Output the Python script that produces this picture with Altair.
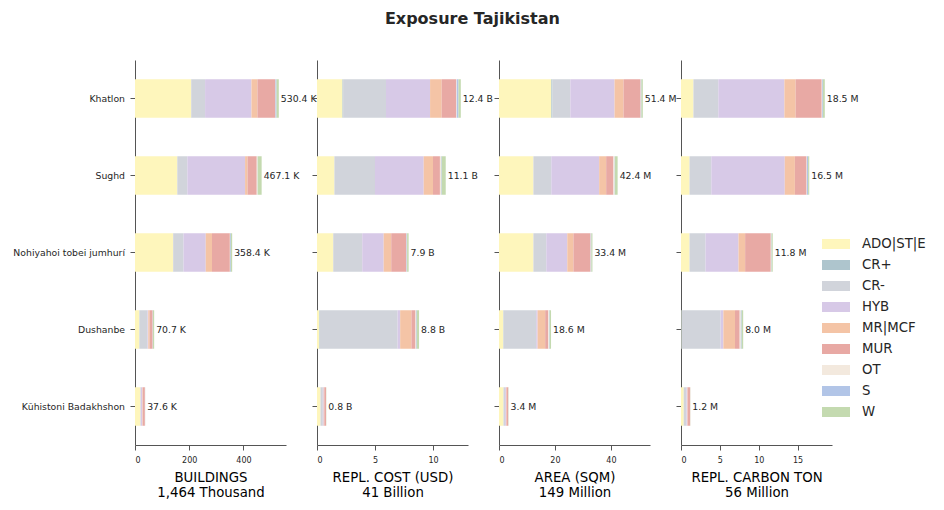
import altair as alt
import pandas as pd

regions = ["Khatlon", "Sughd", "Nohiyahoi tobei jumhurí", "Dushanbe", "Kŭhistoni Badakhshon"]
categories = ["ADO|ST|E", "CR+", "CR-", "HYB", "MR|MCF", "MUR", "OT", "S", "W"]
colors = ["#fef6bc", "#aec5cd", "#d1d4db", "#d7c9e7", "#f4c4a6", "#e8a9a4", "#f3e9de", "#b2c5e7", "#c4dab0"]

# values per region, in category order
buildings_k = [
    [207, 0.5, 51, 171, 22, 66, 0.5, 4, 8.4],
    [156, 0, 37, 213, 9, 34, 3, 0.5, 14.6],
    [140.5, 0.4, 38, 82, 23, 66, 0.5, 3, 5.0],
    [16, 1, 29, 3, 5, 11, 0.5, 0.7, 4.5],
    [20, 0, 2, 5, 1.5, 8, 0.5, 0.3, 0.3],
]
cost_b = [
    [2.2, 0.05, 3.7, 3.8, 1.0, 1.25, 0.05, 0.15, 0.2],
    [1.5, 0, 3.5, 4.2, 0.8, 0.6, 0.1, 0.05, 0.35],
    [1.4, 0, 2.5, 1.85, 0.65, 1.3, 0.02, 0.05, 0.13],
    [0.2, 0.05, 6.7, 0.22, 0.97, 0.35, 0.05, 0.06, 0.2],
    [0.3, 0, 0.2, 0.08, 0.05, 0.15, 0, 0, 0.02],
]
area_m = [
    [18.7, 0.4, 6.4, 15.8, 3.2, 6.1, 0.1, 0.2, 0.5],
    [12.3, 0, 6.4, 17.1, 2.5, 2.6, 0.4, 0.1, 1.0],
    [12.3, 0, 4.6, 7.5, 2.2, 6.1, 0.1, 0.2, 0.4],
    [1.5, 0.1, 11.7, 0.5, 2.7, 1.1, 0.3, 0.2, 0.5],
    [1.6, 0, 0.6, 0.3, 0.2, 0.6, 0, 0, 0.1],
]
carbon_m = [
    [1.6, 0, 3.2, 8.5, 1.45, 3.35, 0.05, 0.1, 0.25],
    [1.1, 0, 2.8, 9.45, 1.3, 1.5, 0.05, 0.15, 0.15],
    [1.1, 0, 2.05, 4.25, 0.85, 3.3, 0.05, 0.05, 0.15],
    [0.05, 0.05, 5.0, 0.35, 1.5, 0.6, 0.15, 0.1, 0.2],
    [0.35, 0, 0.35, 0.1, 0.05, 0.33, 0, 0, 0.02],
]

panel_titles = ["BUILDINGS", "REPL. COST (USD)", "AREA (SQM)", "REPL. CARBON TON"]
panel_units = ["K", "B", "M", "M"]
panel_words = ["Thousand", "Billion", "Million", "Million"]
panel_ticks = [[0, 200, 400], [0, 5, 10], [0, 20, 40], [0, 5, 10, 15]]
panel_data = [buildings_k, cost_b, area_m, carbon_m]

FONT = "DejaVu Sans"
legend = alt.Legend(
    orient="none", legendX=691, legendY=174, title=None,
    symbolType="M-1.4,-0.5H1.4V0.5H-1.4Z", symbolSize=400,
    symbolStrokeWidth=0, symbolOpacity=1, labelFontSize=13.3,
    labelFont=FONT, labelColor="#262626", rowPadding=4, labelOffset=16,
)


def make_panel(idx):
    rows = panel_data[idx]
    recs = []
    for r, row in zip(regions, rows):
        for i, (c, v) in enumerate(zip(categories, row)):
            recs.append({"region": r, "category": c, "order": i, "value": v})
    df = pd.DataFrame(recs)
    totals = [sum(r) for r in rows]
    tot = pd.DataFrame({
        "region": regions,
        "total": totals,
        "label": [f"{t:.1f} {panel_units[idx]}" for t in totals],
    })
    grand = sum(totals)
    title_lines = [panel_titles[idx], f"{round(grand):,} {panel_words[idx]}"]
    xmax = max(totals) * 1.05
    xscale = alt.Scale(domain=[0, xmax], nice=False, zero=True)
    yscale = alt.Scale(domain=regions, paddingInner=0.5, paddingOuter=0.25)
    if idx == 0:
        yaxis = alt.Axis(title=None, labelFontSize=9.3, tickSize=5, labelPadding=5.5,
                         labelLimit=300)
    else:
        yaxis = alt.Axis(title=None, labels=False, tickSize=5)
    xaxis = alt.Axis(values=panel_ticks[idx], title=title_lines, format="d",
                     labelFontSize=8, tickSize=5, labelPadding=6,
                     titleFontSize=13.3, titleFontWeight="normal",
                     titleLineHeight=15, titlePadding=6, titleColor="#000000")
    bars = alt.Chart(df).mark_bar().encode(
        x=alt.X("value:Q", stack="zero", scale=xscale, axis=xaxis),
        y=alt.Y("region:N", sort=regions, scale=yscale, axis=yaxis),
        color=alt.Color("category:N", scale=alt.Scale(domain=categories, range=colors),
                        legend=legend),
        order=alt.Order("order:Q"),
    )
    text = alt.Chart(tot).mark_text(align="left", baseline="middle", dx=2,
                                    fontSize=9.3, font=FONT, color="#262626").encode(
        x=alt.X("total:Q", scale=xscale),
        y=alt.Y("region:N", sort=regions, scale=yscale),
        text="label:N",
    )
    return alt.layer(bars, text).properties(width=151, height=385)


chart = alt.hconcat(*[make_panel(i) for i in range(4)], spacing=31, bounds="flush").properties(
    title=alt.TitleParams("Exposure Tajikistan", fontSize=16, fontWeight="bold",
                          anchor="middle", dx=3, offset=33,
                          color="#262626", font=FONT),
    padding={"left": 12, "top": 11, "right": 5, "bottom": 5},
).configure_view(stroke=None).configure_axis(
    grid=False, labelFont=FONT, titleFont=FONT, domainColor="#555555",
    tickColor="#555555", labelColor="#262626",
)

chart.save("out.html", embed_options={"renderer": "svg", "actions": False})
